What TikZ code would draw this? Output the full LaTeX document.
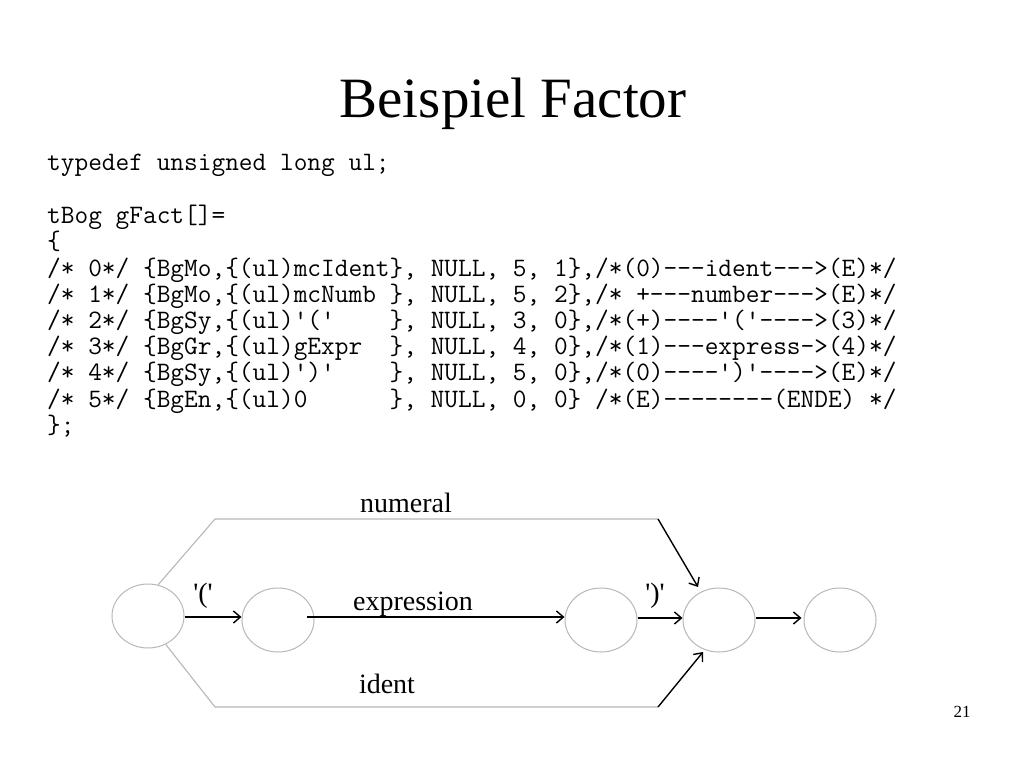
\documentclass[tikz,border=0pt]{standalone}
\usepackage{fontspec}
\setmainfont{Liberation Serif}
\usetikzlibrary{arrows.meta,shapes.geometric}
\begin{document}
\begin{tikzpicture}[x=1pt,y=-1pt,
  codeline/.style={anchor=base west,inner sep=0pt,font=\ttfamily\fontsize{26.6}{28}\selectfont},
  state/.style={draw=black!28,line width=1pt,ellipse,minimum width=72pt,minimum height=64pt,inner sep=0pt},
  lbl/.style={anchor=base,inner sep=0pt,font=\fontsize{28}{30}\selectfont},
  grayline/.style={draw=black!28,line width=1.1pt},
  arr/.style={draw=black,line width=1.4pt,-{Straight Barb[length=7pt,width=12pt]}}]
\useasboundingbox[fill=white] (0,0) rectangle (1024,768);
\frenchspacing
% title
\node[anchor=base,inner sep=0pt,font=\fontsize{57}{60}\selectfont] (title) at (513,117) {Beispiel Factor};
% code
\node[codeline] (c1) at (47,170) {typedef unsigned long ul;};
\node[codeline] (c2) at (47,223) {tBog gFact[]=};
\node[codeline] (c3) at (47,249.5) {\{};
\node[codeline] (c4) at (47,276) {/*~0*/~\{BgMo,\{(ul)mcIdent\},~NULL,~5,~1\},/*(0)---ident---{}>(E)*/};
\node[codeline] (c5) at (47,302.2) {/*~1*/~\{BgMo,\{(ul)mcNumb~\},~NULL,~5,~2\},/*~+---number---{}>(E)*/};
\node[codeline] (c6) at (47,328.4) {/*~2*/~\{BgSy,\{(ul)\textquotesingle(\textquotesingle~~~~\},~NULL,~3,~0\},/*(+)----\textquotesingle(\textquotesingle----{}>(3)*/};
\node[codeline] (c7) at (47,354.6) {/*~3*/~\{BgGr,\{(ul)gExpr~~\},~NULL,~4,~0\},/*(1)---express-{}>(4)*/};
\node[codeline] (c8) at (47,380.8) {/*~4*/~\{BgSy,\{(ul)\textquotesingle)\textquotesingle~~~~\},~NULL,~5,~0\},/*(0)----\textquotesingle)\textquotesingle----{}>(E)*/};
\node[codeline] (c9) at (47,407) {/*~5*/~\{BgEn,\{(ul)0~~~~~~\},~NULL,~0,~0\}~/*(E)--------(ENDE)~*/};
\node[codeline] (c10) at (47,433) {\};};
% states
\node[state] (A) at (148,616) {};
\node[state] (B) at (278,620) {};
\node[state] (C) at (601,620) {};
\node[state] (D) at (719,620) {};
\node[state] (E) at (840,620) {};
% coordinates
\coordinate (tl) at (215,519);
\coordinate (tr) at (658,519);
\coordinate (bl) at (215,707);
\coordinate (br) at (658,707);
\coordinate (dt) at (698,587);
\coordinate (db) at (703,652);
\coordinate (bs) at (307,617);
% connectors
\draw[grayline] (A.72) -- (tl) -- (tr);
\draw[arr] (tr) -- (dt);
\draw[grayline] (A.-58) -- (bl) -- (br);
\draw[arr] (br) -- (db);
\draw[arr] (A.east |- 0,617) -- (B.west |- 0,617);
\draw[arr] (bs) -- (C.west |- 0,617);
\draw[arr] (C.east |- 0,618) -- (D.west |- 0,618);
\draw[arr] (D.east |- 0,618) -- ([xshift=-2pt]E.west |- 0,618);
% labels
\node[lbl] (lnum) at (406,512) {numeral};
\node[lbl] (lexp) at (413,610) {expression};
\node[lbl] (lid) at (387,693) {ident};
\node[lbl] (lop) at (203,602) {\textquotesingle(\textquotesingle};
\node[lbl] (lcl) at (655,602) {\textquotesingle)\textquotesingle};
\node[anchor=base,inner sep=0pt,font=\fontsize{17}{19}\selectfont] (pg) at (962,717) {21};
\end{tikzpicture}
\end{document}
